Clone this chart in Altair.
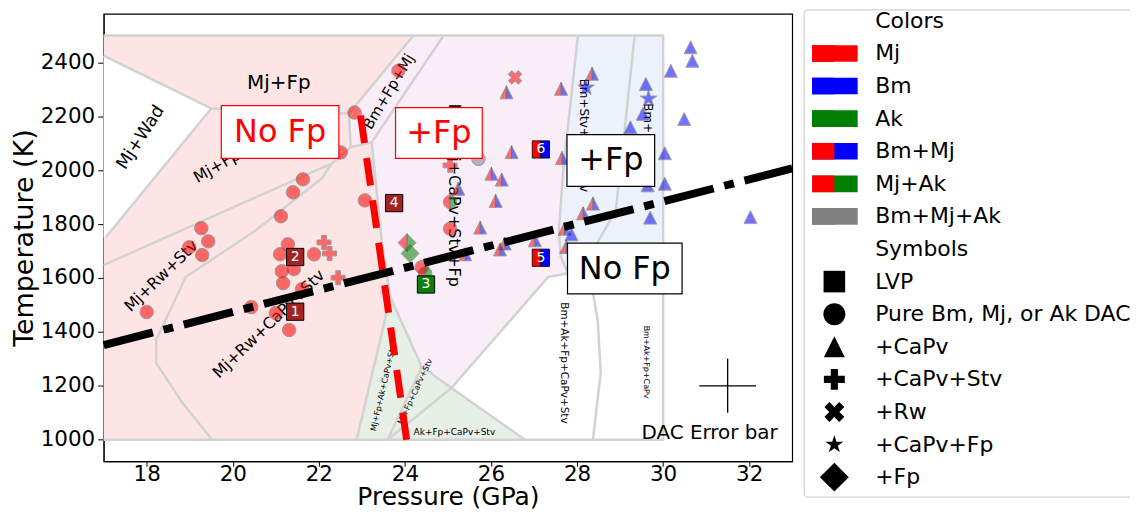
import altair as alt
import pandas as pd

FONT = "DejaVu Sans"

# ---------------- axes ----------------
x_domain = [17, 33]
y_domain = [920, 2580]
x_ticks = [18, 20, 22, 24, 26, 28, 30, 32]
y_ticks = [1000, 1200, 1400, 1600, 1800, 2000, 2200, 2400]

# ---------------- experiment points (P in GPa, T in K) ----------------
mj_circle_P = [18.0, 19.27, 19.43, 18.99, 19.29, 20.43, 21.0, 21.31, 21.12, 21.40, 21.63, 21.28,
               21.10, 21.89, 21.14, 21.42, 21.17, 21.61, 22.51, 23.07, 22.83, 23.85, 24.39, 25.05]
mj_circle_T = [1474, 1785, 1736, 1714, 1685, 1492, 1470, 1407, 1829, 1918, 1966, 1725,
               1688, 1688, 1625, 1633, 1581, 1559, 2066, 1888, 2214, 2369, 1640, 1783]
mjak_circle_P = [25.05, 24.47]
mjak_circle_T = [1882, 1617]
all_circle_P = [25.71]
all_circle_T = [2042]
mj_plus_P = [22.12, 22.25, 22.45, 25.05]
mj_plus_T = [1732, 1691, 1601, 2018]
mj_x_P = [26.56]
mj_x_T = [2344]
mjak_diamond_P = [24.05]
mjak_diamond_T = [1731]
ak_diamond_P = [24.12]
ak_diamond_T = [1691]
bmmj_tri_P = [26.36, 26.48, 26.01, 26.25, 26.11, 25.75, 26.32, 26.21, 27.63, 28.35, 27.65,
              28.37, 28.14, 27.71, 27.75, 27.02, 25.24, 25.40]
bmmj_tri_T = [2289, 2067, 1987, 1965, 1886, 1787, 1728, 1706, 2302, 2358, 2045,
              1876, 1840, 1783, 1715, 1740, 1931, 1688]
bm_tri_P = [30.64, 30.68, 30.18, 29.60, 29.53, 29.24, 30.49, 30.04, 30.04, 29.70, 32.03, 27.87, 29.64]
bm_tri_T = [2456, 2406, 2369, 2320, 2209, 2159, 2190, 2063, 1950, 1824, 1826, 1762, 1944]
bm_star_P = [29.66, 28.21]
bm_star_T = [2265, 2306]

lvp_mj_id = ["1", "2", "4"]
lvp_mj_P = [21.45, 21.45, 23.75]
lvp_mj_T = [1475, 1678, 1878]
lvp_ak_id = ["3"]
lvp_ak_P = [24.49]
lvp_ak_T = [1576]
lvp_bmmj_id = ["5", "6"]
lvp_bmmj_P = [27.16, 27.16]
lvp_bmmj_T = [1675, 2077]

# ---------------- phase diagram ----------------
fill_pink_P = [17, 24.2, 22.70, 22.74, 23.23, 23.46, 23.66, 22.88, 17]
fill_pink_T = [2500, 2500, 2210, 2085, 2104, 1740, 1530, 1000, 1000]
fill_wad_P = [17, 19.5, 17.05, 17]
fill_wad_T = [2425, 2229, 1751, 1751]
fill_purple_P = [24.2, 28.02, 27.85, 27.68, 27.58, 27.62, 27.79, 27.33, 25.08, 24.39, 23.66,
                 23.46, 23.23, 22.74, 22.70]
fill_purple_T = [2500, 2500, 2250, 2000, 1780, 1680, 1618, 1604, 1192, 1271, 1530,
                 1740, 2104, 2085, 2210]
fill_blue_P = [28.02, 30, 30, 27.79, 27.62, 27.58, 27.68, 27.85]
fill_blue_T = [2500, 2500, 1610, 1618, 1680, 1780, 2000, 2250]
fill_green_P = [23.66, 24.39, 25.08, 26.79, 22.88]
fill_green_T = [1530, 1271, 1192, 1000, 1000]

boundaries = {
    "frame": ([17, 30, 30, 17], [2500, 2500, 1000, 1000]),
    "wad_upper": ([17.0, 19.5], [2425, 2229]),
    "wad_lower": ([19.5, 17.05], [2229, 1751]),
    "mjfp_lower": ([19.5, 22.70], [2229, 2210]),
    "band_left": ([22.70, 24.2], [2210, 2500]),
    "band_right": ([23.23, 24.9], [2104, 2500]),
    "band_bottom": ([22.70, 22.74, 23.23], [2210, 2085, 2104]),
    "l1": ([17.0, 22.30, 22.74], [1648, 2025, 2085]),
    "l2": ([19.52, 18.83, 18.22, 18.22, 18.91, 20.54, 22.07, 22.30],
           [1000, 1137, 1285, 1370, 1604, 1777, 1970, 2025]),
    "pink_purple": ([23.23, 23.46, 23.66, 22.88], [2104, 1740, 1530, 1000]),
    "green_top": ([23.66, 24.39, 25.08, 26.79], [1530, 1271, 1192, 1000]),
    "green_int1": ([24.39, 23.6], [1271, 1000]),
    "green_int2": ([25.08, 23.6], [1192, 1000]),
    "purple_white": ([25.08, 27.33, 27.79], [1192, 1604, 1618]),
    "purple_blue": ([28.02, 27.85, 27.68, 27.58, 27.62, 27.79], [2500, 2250, 2000, 1780, 1680, 1618]),
    "blue_bottom": ([27.79, 30], [1618, 1610]),
    "blue_inner": ([29.34, 29.13, 28.9, 28.44, 28.28, 28.48, 28.55, 28.37],
                   [2500, 2184, 1851, 1722, 1629, 1444, 1248, 1000]),
}

region_text = ["Mj+Fp", "Mj+Wad", "Mj+Fp+Stv", "Mj+Rw+Stv", "Mj+Rw+CaPv+Stv", "Bm+Fp+Mj",
               "Bm+Mj+CaPv+Stv+Fp", "Bm+Stv+Fp+CaPv", "Bm+Fp+CaPv", "Bm+Ak+Fp+CaPv+Stv",
               "Bm+Ak+Fp+CaPv", "Mj+Fp+Ak+CaPv+Stv", "Mj+Fp+CaPv+Stv", "Ak+Fp+CaPv+Stv",
               "DAC Error bar"]
region_P = [21.07, 17.86, 20.03, 18.34, 20.84, 23.62, 25.15, 28.16, 29.66, 27.70, 29.60,
            23.51, 24.25, 25.15, 31.08]
region_T = [2325, 2121, 2051, 1607, 1429, 2292, 1907, 2129, 2092, 1285, 1288,
            1192, 1178, 1030, 1026]
region_angle = [0, 303, 330, 316, 316, 301, 90, 90, 90, 90, 90, 283, 295, 0, 0]
region_size = [20, 17.5, 16, 16, 16, 15, 16, 12, 12, 10.5, 8, 8, 8, 9, 20]

# dividing lines
red_line_P = [22.97, 24.04]
red_line_T = [2203, 1000]
black_line_P = [17, 33]
black_line_T = [1351, 2007]

# boxed annotations
box_text = ["No Fp", "+Fp", "+Fp", "No Fp"]
box_P = [21.10, 24.79, 28.785, 29.11]
box_T = [2142, 2138, 2036, 1635]

# DAC error bar
err_P = [31.5]
err_T = [1200]
err_dP = [0.66]
err_dT = [100]

# legend
legend_color_labels = ["Mj", "Bm", "Ak", "Bm+Mj", "Mj+Ak", "Bm+Mj+Ak"]
legend_color_left = ["red", "blue", "green", "red", "red", "gray"]
legend_color_right = ["red", "blue", "green", "blue", "green", "gray"]
legend_symbol_labels = ["LVP", "Pure Bm, Mj, or Ak DAC", "+CaPv", "+CaPv+Stv", "+Rw", "+CaPv+Fp", "+Fp"]

# ---------------- shapes ----------------
TRI = "M0,-1L-1,1L1,1Z"
TRI_L = "M0,-1L-1,1L0,1Z"
TRI_R = "M0,-1L0,1L1,1Z"
CIRC_L = "M0,-1A1,1,0,0,0,0,1Z"
CIRC_R = "M0,-1A1,1,0,0,1,0,1Z"
SQ_L = "M-1,-1H0V1H-1Z"
SQ_R = "M0,-1H1V1H0Z"
DIA = "M0,-1L1,0L0,1L-1,0Z"
DIA_L = "M0,-1L-1,0L0,1Z"
DIA_R = "M0,-1L1,0L0,1Z"
PLUS = "M-0.34,-1H0.34V-0.34H1V0.34H0.34V1H-0.34V0.34H-1V-0.34H-0.34Z"
STAR = ("M0,-1L0.225,-0.309L0.951,-0.309L0.363,0.118L0.588,0.809L0,0.382L-0.588,0.809"
        "L-0.363,0.118L-0.951,-0.309L-0.225,-0.309Z")


def box_path(ratio):
    return f"M-1,-{ratio}H1V{ratio}H-1Z"


W, H = 691, 449

# ---------------- encodings ----------------
X = alt.X("P:Q", scale=alt.Scale(domain=x_domain, nice=False, zero=False),
          axis=alt.Axis(values=x_ticks, title="Pressure (GPa)", grid=False, domainColor="black",
                        tickColor="black", tickSize=5, labelFontSize=21.5, labelFont=FONT,
                        labelColor="black", labelPadding=-3, titleFontSize=25, titleFont=FONT,
                        titleFontWeight="normal", titleColor="black", titleBaseline="alphabetic",
                        titleY=43.5, labelOverlap=False, labelFlush=False))
Y = alt.Y("T:Q", scale=alt.Scale(domain=y_domain, nice=False, zero=False),
          axis=alt.Axis(values=y_ticks, title="Temperature (K)", grid=False, domainColor="black",
                        tickColor="black", tickSize=6, labelFontSize=21.5, labelFont=FONT,
                        labelColor="black", labelPadding=3, titleFontSize=27, titleFont=FONT,
                        titleFontWeight="normal", titleColor="black", titlePadding=2,
                        labelOverlap=False, format="d"))


def pts(P, T, **extra):
    d = pd.DataFrame({"P": P, "T": T})
    for k, v in extra.items():
        d[k] = v
    return d


def seq(P, T):
    return pd.DataFrame({"P": P, "T": T, "i": list(range(len(P)))})


layers = []

# region fills
for (fp, ft, col) in [(fill_pink_P, fill_pink_T, "#fde5e5"),
                      (fill_wad_P, fill_wad_T, "#ffffff"),
                      (fill_purple_P, fill_purple_T, "#f9eef7"),
                      (fill_blue_P, fill_blue_T, "#edf1fb"),
                      (fill_green_P, fill_green_T, "#e6f0e6")]:
    layers.append(alt.Chart(seq(fp, ft)).mark_line(fill=col, stroke="transparent", strokeWidth=0)
                  .encode(x=X, y=Y, order="i:Q"))

# boundaries
bd = pd.concat([seq(p, t).assign(seg=name) for name, (p, t) in boundaries.items()], ignore_index=True)
layers.append(alt.Chart(bd).mark_line(stroke="#d2d2d2", strokeWidth=2.5)
              .encode(x=X, y=Y, detail="seg:N", order="i:Q"))

# region labels
for txt, p, t, a, s in zip(region_text, region_P, region_T, region_angle, region_size):
    layers.append(alt.Chart(pts([p], [t], label=[txt])).mark_text(
        angle=a, fontSize=s, font=FONT, color="black", align="center", baseline="middle")
        .encode(x=X, y=Y, text="label:N"))


def point_layer(P, T, shape, size, fill, opacity=0.55, stroke="#555555", angle=0, sw=1):
    return alt.Chart(pts(P, T)).mark_point(
        shape=shape, size=size, filled=True, color=fill, stroke=stroke, strokeWidth=sw,
        opacity=opacity, angle=angle).encode(x=X, y=Y)


layers += [
    point_layer(mj_circle_P, mj_circle_T, "circle", 182, "red"),
    point_layer(mjak_circle_P, mjak_circle_T, CIRC_L, 182, "red"),
    point_layer(mjak_circle_P, mjak_circle_T, CIRC_R, 182, "green"),
    point_layer(all_circle_P, all_circle_T, "circle", 182, "gray"),
    point_layer(mj_plus_P, mj_plus_T, PLUS, 196, "red"),
    point_layer(mj_x_P, mj_x_T, PLUS, 196, "red", angle=45),
    point_layer(mjak_diamond_P, mjak_diamond_T, DIA_L, 324, "red"),
    point_layer(mjak_diamond_P, mjak_diamond_T, DIA_R, 324, "green"),
    point_layer(ak_diamond_P, ak_diamond_T, DIA, 324, "green"),
    point_layer(bmmj_tri_P, bmmj_tri_T, TRI_L, 169, "red"),
    point_layer(bmmj_tri_P, bmmj_tri_T, TRI_R, 169, "blue"),
    point_layer(bm_tri_P, bm_tri_T, TRI, 169, "blue"),
    point_layer(bm_star_P, bm_star_T, STAR, 300, "blue"),
]

# dividing lines
layers.append(alt.Chart(seq(red_line_P, red_line_T)).mark_line(
    stroke="red", strokeWidth=7, strokeDash=[28, 15], strokeCap="butt").encode(x=X, y=Y, order="i:Q"))
layers.append(alt.Chart(seq(black_line_P, black_line_T)).mark_line(
    stroke="black", strokeWidth=8, strokeDash=[51, 11, 10, 11], strokeCap="butt").encode(x=X, y=Y, order="i:Q"))

# LVP squares
layers += [
    point_layer(lvp_mj_P, lvp_mj_T, "square", 300, "#a52222", opacity=1, stroke="black"),
    point_layer(lvp_ak_P, lvp_ak_T, "square", 300, "#0a800a", opacity=1, stroke="black"),
    point_layer(lvp_bmmj_P, lvp_bmmj_T, SQ_L, 300, "red", opacity=1, stroke="black", sw=0.8),
    point_layer(lvp_bmmj_P, lvp_bmmj_T, SQ_R, 300, "blue", opacity=1, stroke="black", sw=0.8),
]
lvp_df = pd.concat([pts(lvp_mj_P, lvp_mj_T, id=lvp_mj_id), pts(lvp_ak_P, lvp_ak_T, id=lvp_ak_id),
                    pts(lvp_bmmj_P, lvp_bmmj_T, id=lvp_bmmj_id)], ignore_index=True)
layers.append(alt.Chart(lvp_df).mark_text(fontSize=14, font=FONT, color="white", align="center",
                                          baseline="middle").encode(x=X, y=Y, text="id:N"))

# boxed annotations
box_geom = [(118, 0.449, "red"), (87, 0.586, "red"), (88, 0.591, "black"), (115, 0.443, "black")]
for txt, p, t, (w, r, col) in zip(box_text, box_P, box_T, box_geom):
    layers.append(alt.Chart(pts([p], [t])).mark_point(
        shape=box_path(r), size=w * w, filled=True, color="white", stroke=col,
        strokeWidth=1.2, opacity=1).encode(x=X, y=Y))
    layers.append(alt.Chart(pts([p], [t], label=[txt])).mark_text(
        fontSize=32, font=FONT, color=col, align="center", baseline="middle")
        .encode(x=X, y=Y, text="label:N"))

# error bar
err_h = pd.DataFrame({"P": [err_P[0] - err_dP[0]], "P2": [err_P[0] + err_dP[0]], "T": err_T})
err_v = pd.DataFrame({"P": err_P, "T": [err_T[0] - err_dT[0]], "T2": [err_T[0] + err_dT[0]]})
layers.append(alt.Chart(err_h).mark_rule(color="black", strokeWidth=1.3).encode(x=X, x2="P2:Q", y=Y))
layers.append(alt.Chart(err_v).mark_rule(color="black", strokeWidth=1.3).encode(x=X, y=Y, y2="T2:Q"))

main = alt.layer(*layers)

# ---------------- legend (own scales: x in px from plot left, y in legend rows) ----------------
ROW = 32.71
d0 = -7 / ROW
LX = alt.X("x:Q", scale=alt.Scale(domain=[0, W], nice=False, zero=False), axis=None)
LY = alt.Y("r:Q", scale=alt.Scale(domain=[d0, d0 + H / ROW], reverse=True, nice=False, zero=False),
           axis=None)
LX2 = alt.X2("x2:Q")
LY2 = alt.Y2("r2:Q")

leg_left, sw_split, sw_right, sym_x, txt_x = 711, 733.3, 756.7, 733.3, 774.3
leg = []
leg.append(alt.Chart(pd.DataFrame({"x": [703], "x2": [1060], "r": [d0 - 4 / ROW],
                                   "r2": [d0 + 485 / ROW]}))
           .mark_rect(fill="white", stroke="#d0d0d0", strokeWidth=1.2, cornerRadius=4)
           .encode(x=LX, x2=LX2, y=LY, y2=LY2))

color_rows = [1 + i for i in range(len(legend_color_labels))]
symbol_rows = [8 + i for i in range(len(legend_symbol_labels))]
sw_half = 0.255
full_df = pd.DataFrame({"x": leg_left, "x2": sw_right, "r": [r - sw_half for r in color_rows],
                        "r2": [r + sw_half for r in color_rows], "c": legend_color_right})
left_df = pd.DataFrame({"x": leg_left, "x2": sw_split, "r": [r - sw_half for r in color_rows],
                        "r2": [r + sw_half for r in color_rows], "c": legend_color_left})
for d in (full_df, left_df):
    leg.append(alt.Chart(d).mark_rect().encode(x=LX, x2=LX2, y=LY, y2=LY2,
                                               color=alt.Color("c:N", scale=None)))

text_df = pd.DataFrame({"x": txt_x, "r": [0] + color_rows + [7] + symbol_rows,
                        "t": ["Colors"] + legend_color_labels + ["Symbols"] + legend_symbol_labels})
leg.append(alt.Chart(text_df).mark_text(fontSize=22, font=FONT, color="black", align="left",
                                        baseline="middle").encode(x=LX, y=LY, text="t:N"))

sym_specs = [("square", 470, 0), ("circle", 484, 0), (TRI, 440, 0), (PLUS, 441, 0),
             (PLUS, 441, 45), (STAR, 360, 0), (DIA, 841, 0)]
for row, (shp, sz, ang) in zip(symbol_rows, sym_specs):
    leg.append(alt.Chart(pd.DataFrame({"x": [sym_x], "r": [row]})).mark_point(
        shape=shp, size=sz, filled=True, color="black", opacity=1, angle=ang, strokeWidth=0)
        .encode(x=LX, y=LY))

legend = alt.layer(*leg)

chart = alt.layer(main, legend).resolve_scale(x="independent", y="independent").properties(
    width=W, height=H,
    autosize=alt.AutoSizeParams(type="none"),
    padding={"left": 96, "top": 5, "right": 339, "bottom": 48},
    view=alt.ViewBackground(stroke="black", strokeWidth=1.2),
)

chart.save("out.html", embed_options={"renderer": "svg", "actions": False})
